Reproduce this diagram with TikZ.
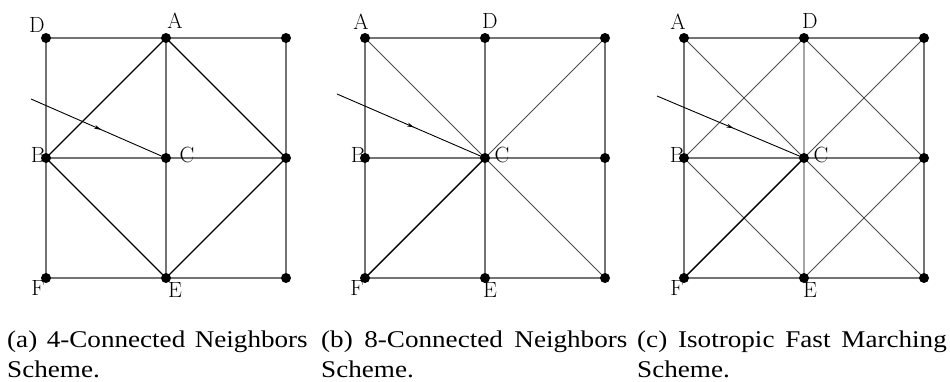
\documentclass[tikz,border=0pt]{standalone}
\usepackage{fontspec}
\newfontfamily\capfont{Liberation Serif}
\usetikzlibrary{decorations.markings,arrows.meta}
\newcommand{\capbox}[2]{\scalebox{1.13}[1]{\parbox[t]{#1}{\tolerance=10000\hyphenpenalty=10000\emergencystretch=30pt #2}}}
\begin{document}
\begin{tikzpicture}[x=1pt,y=-1pt,
  dot/.style={circle,fill=black,inner sep=0pt,minimum size=10pt},
  gridln/.style={draw=black!55,line width=1.1pt},
  gridlt/.style={draw=black!35,line width=1.1pt},
  diag/.style={draw=black,line width=1.4pt},
  diagthin/.style={draw=black!70,line width=1pt},
  lbl/.style={font=\fontsize{22}{22}\selectfont,inner sep=0pt},
  ray/.style={draw=black,line width=0.9pt,postaction={decorate},
    decoration={markings,mark=at position 0.52 with {\arrow{Stealth[length=7pt,width=4pt]}}}},
  captext/.style={anchor=base west,inner sep=0pt,font=\capfont\fontsize{24}{30}\selectfont}]
\useasboundingbox (0,0) rectangle (950,381);
% grid coordinates
\foreach \p/\x in {a/46,b/365,c/684}{
  \foreach \c/\dx in {L/0,M/120,R/240}{
    \foreach \r/\y in {T/38,M/158,B/278}{
      \coordinate (\p\r\c) at (\x+\dx,\y);
    }}}
% grid lines
\foreach \p in {a,b}{
  \draw[gridln] (\p TL) -- (\p TR) -- (\p BR) -- (\p BL) -- cycle;
  \draw[gridln] (\p ML) -- (\p MR);
  \draw[gridln] (\p TM) -- (\p BM);
}
\draw[gridln] (cTL) -- (cTR) -- (cBR) -- (cBL) -- cycle;
\draw[gridln] (cML) -- (cMR);
\draw[gridlt] (cTM) -- (cBM);
% panel a diagonals
\draw[diag] (aTM) -- (aML) -- (aBM) -- (aMR) -- cycle;
% panel b diagonals
\draw[diagthin] (bTL) -- (bBR);
\draw[diagthin] (bTR) -- (bMM);
\draw[diag] (bMM) -- (bBL);
% panel c diagonals
\draw[diagthin] (cTM) -- (cML) -- (cBM) -- (cMR) -- cycle;
\draw[diagthin] (cTL) -- (cBR);
\draw[diagthin] (cTR) -- (cMM);
\draw[diag] (cMM) -- (cBL);
% rays
\coordinate (aS) at (31,99);
\coordinate (bS) at (337,94);
\coordinate (cS) at (657,96);
\draw[ray] (aS) -- (aMM);
\draw[ray] (bS) -- (bMM);
\draw[ray] (cS) -- (cMM);
% dots
\foreach \p in {a,b,c}{
  \foreach \n in {TL,TM,TR,ML,MM,MR,BL,BM,BR}{
    \node[dot] (\p\n d) at (\p\n) {};
  }}
% labels panel a
\node[lbl] (aD) at (37,25) {D};
\node[lbl] (aA) at (175,21) {A};
\node[lbl] (aB) at (38,155) {B};
\node[lbl] (aC) at (187,155) {C};
\node[lbl] (aF) at (38,288) {F};
\node[lbl] (aE) at (175,290) {E};
% labels panel b
\node[lbl] (bA) at (361,22) {A};
\node[lbl] (bD) at (490,21) {D};
\node[lbl] (bB) at (358,155) {B};
\node[lbl] (bC) at (502,155) {C};
\node[lbl] (bF) at (357,288) {F};
\node[lbl] (bE) at (490,290) {E};
% labels panel c
\node[lbl] (cA) at (678,22) {A};
\node[lbl] (cD) at (810,21) {D};
\node[lbl] (cB) at (677,155) {B};
\node[lbl] (cC) at (821,155) {C};
\node[lbl] (cF) at (677,288) {F};
\node[lbl] (cE) at (810,290) {E};
% captions
\node[captext] (capa) at (7,347) {\capbox{266pt}{(a) \mbox{4-Connected} Neighbors Scheme.}};
\node[captext] (capb) at (321,347) {\capbox{271pt}{(b) \mbox{8-Connected} Neighbors Scheme.}};
\node[captext] (capc) at (637,347) {\capbox{274pt}{(c) Isotropic Fast Marching Scheme.}};
\end{tikzpicture}
\end{document}
